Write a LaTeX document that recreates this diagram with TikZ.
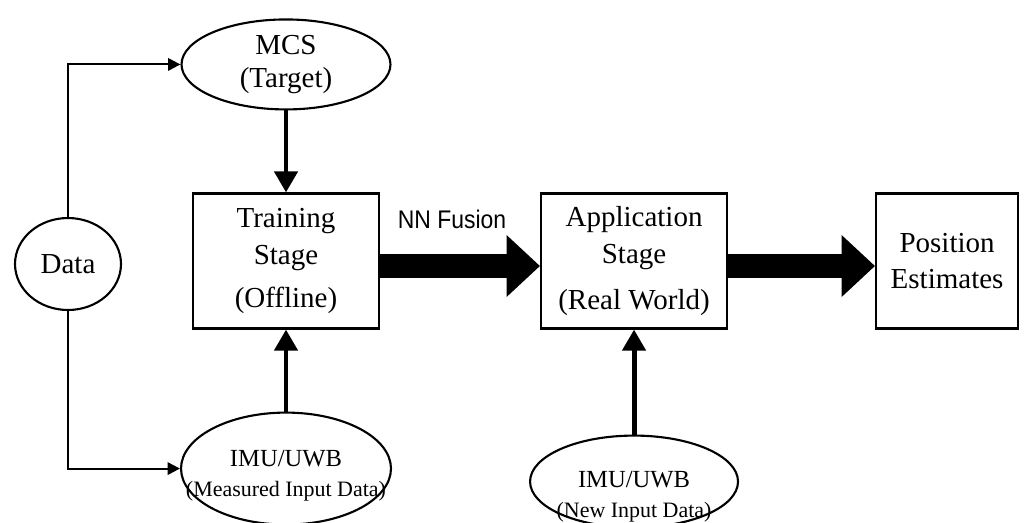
\documentclass[tikz,border=0pt]{standalone}
\usepackage{fontspec}
\setmainfont{Liberation Serif}
\newfontfamily\fusionfont[FakeStretch=0.9]{Liberation Sans}
\usetikzlibrary{shapes.geometric, arrows.meta, positioning}

\begin{document}
\begin{tikzpicture}[
x=0.02cm, y=-0.02cm,
every node/.style={font=\fontsize{16.5}{21}\selectfont},
stage_node/.style={rectangle, draw, line width=1.2pt, minimum width=3.72cm, minimum height=2.7cm, align=center},
src_node/.style={ellipse, draw, line width=1.2pt, inner sep=0pt, align=center},
src_text/.style={align=center, inner sep=0pt, font=\fontsize{14}{17}\selectfont},
fat_arrow/.style={line width=14pt, -{Triangle[length=19pt, width=34pt]}},
feed_arrow/.style={line width=2.8pt, -{Triangle[length=12pt, width=13pt]}},
link_arrow/.style={line width=1.2pt, -{Triangle[length=7pt, width=7pt]}}
]
\useasboundingbox (0,0) rectangle (1030,522);

% Stages
\node[stage_node] (train) at (286,261) {Training\\Stage\\[3pt](Offline)};
\node[stage_node] (app) [right=3.2cm of train] {Application\\Stage\\[5pt](Real World)};
\node[stage_node, minimum width=2.84cm] (pos) [right=2.94cm of app] {Position\\Estimates};

% Data sources
\node[src_node, minimum width=2.12cm, minimum height=1.84cm] (data) at (68,264) {Data};
\node[src_node, minimum width=4.18cm, minimum height=1.8cm] (mcs) [above=1.64cm of train] {MCS\\[-2pt](Target)};
\node[src_node, minimum width=4.2cm, minimum height=2.24cm] (imu_meas) [below=1.64cm of train] {};
\node[src_text] (imu_meas_txt) [below=0.15cm of imu_meas.center, anchor=center] {IMU/UWB\\{\fontsize{12.5}{15}\selectfont (Measured Input Data)}};
\node[src_node, minimum width=4.16cm, minimum height=1.84cm] (imu_new) [below=2.1cm of app] {};
\node[src_text] (imu_new_txt) [below=0.3cm of imu_new.center, anchor=center] {IMU/UWB\\{\fontsize{12.5}{15}\selectfont (New Input Data)}};

% Edges
\draw[link_arrow] (data.north) |- (mcs.west);
\draw[link_arrow] (data.south) |- (imu_meas.west);
\draw[feed_arrow] (mcs) -- (train);
\draw[feed_arrow] (imu_meas) -- (train);
\draw[feed_arrow] (imu_new) -- (app);
\draw[fat_arrow] ([yshift=-0.1cm]train.east) -- ([yshift=-0.1cm]app.west)
  node[midway, above=0.38cm, xshift=-0.16cm, font=\fusionfont\fontsize{14.5}{16}\selectfont] (fusion) {NN Fusion};
\draw[fat_arrow] ([yshift=-0.1cm]app.east) -- ([yshift=-0.1cm]pos.west);
\end{tikzpicture}
\end{document}
